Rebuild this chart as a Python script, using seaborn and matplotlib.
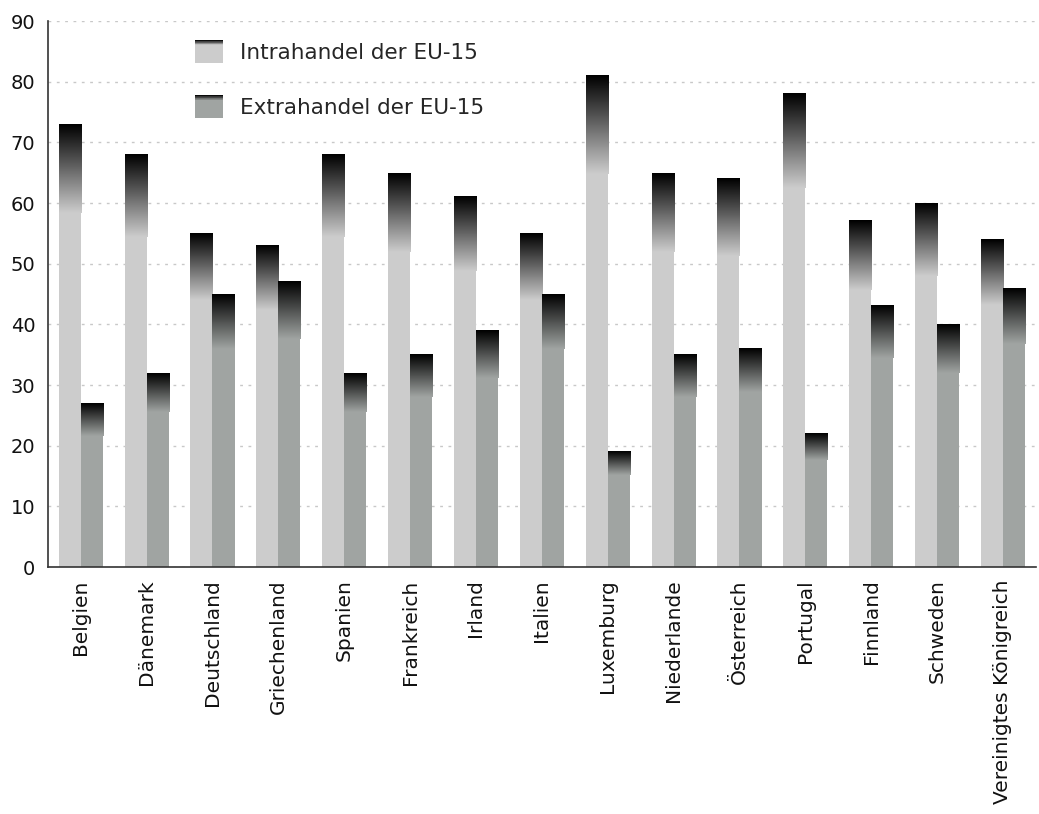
import matplotlib
matplotlib.use("Agg")
import matplotlib.pyplot as plt
import numpy as np
import pandas as pd
import seaborn as sns
from matplotlib.colors import LinearSegmentedColormap, to_rgb
from matplotlib.legend_handler import HandlerBase
from matplotlib.patches import Patch, Rectangle

countries = ["Belgien", "Dänemark", "Deutschland", "Griechenland", "Spanien",
             "Frankreich", "Irland", "Italien", "Luxemburg", "Niederlande",
             "Österreich", "Portugal", "Finnland", "Schweden",
             "Vereinigtes Königreich"]
intra = [73, 68, 55, 53, 68, 65, 61, 55, 81, 65, 64, 78, 57, 60, 54]
extra = [27, 32, 45, 47, 32, 35, 39, 45, 19, 35, 36, 22, 43, 40, 46]
series = ["Intrahandel der EU-15", "Extrahandel der EU-15"]
colors = ["#cccccc", "#a0a4a2"]

GRAD_FRAC = 0.2  # top part of each bar shaded to black


def gradient_cmap(base):
    return LinearSegmentedColormap.from_list("g", [to_rgb(base), (0, 0, 0)])


class GradientHandler(HandlerBase):
    def __init__(self, base):
        super().__init__()
        self.base = base

    def create_artists(self, legend, orig_handle, xdescent, ydescent,
                       width, height, fontsize, trans):
        arts = [Rectangle((-xdescent, -ydescent), width, height,
                          facecolor=self.base, edgecolor="none", transform=trans)]
        cmap = gradient_cmap(self.base)
        n = 8
        gh = height * 0.22
        for i in range(n):
            y = -ydescent + height - gh + gh * i / n
            arts.append(Rectangle((-xdescent, y), width, gh / n + 0.3,
                                  facecolor=cmap((i + 0.5) / n), edgecolor="none",
                                  transform=trans))
        return arts


df = pd.DataFrame({
    "land": countries * 2,
    "wert": intra + extra,
    "handel": [series[0]] * len(countries) + [series[1]] * len(countries),
})

sns.set_style("white")
plt.rcParams["font.family"] = ["DejaVu Sans"]

fig = plt.figure(figsize=(10.39, 8.14), dpi=100)
ax = fig.add_axes([0.046, 0.3034, 0.951, 0.6708])

sns.barplot(data=df, x="land", y="wert", hue="handel", hue_order=series,
            palette=dict(zip(series, colors)), width=0.67, legend=False,
            saturation=1, linewidth=0, edgecolor="none", ax=ax, zorder=2)

# gradient cap on every bar
grad = np.linspace(0, 1, 128).reshape(-1, 1)
for patch, base in zip(ax.patches, [colors[0]] * 15 + [colors[1]] * 15):
    x0, y0 = patch.get_x(), patch.get_y()
    w, h = patch.get_width(), patch.get_height()
    ax.imshow(grad, extent=[x0, x0 + w, y0 + h * (1 - GRAD_FRAC), y0 + h],
              origin="lower", aspect="auto", cmap=gradient_cmap(base),
              interpolation="bilinear", zorder=3)

ax.set_xlim(-0.5, len(countries) - 0.5)
ax.set_ylim(0, 90)
ax.set_yticks(range(0, 91, 10))
ax.set_xlabel("")
ax.set_ylabel("")

ax.yaxis.grid(True, linestyle=(0, (2, 4)), color="#c8c8c8", linewidth=1, zorder=0)
ax.xaxis.grid(False)
ax.set_axisbelow(True)

for side in ["top", "right"]:
    ax.spines[side].set_visible(False)
for side in ["left", "bottom"]:
    ax.spines[side].set_color("#333333")
    ax.spines[side].set_linewidth(1.2)

ax.tick_params(axis="y", direction="out", length=6, width=1.2, color="#333333",
               labelsize=14, labelcolor="#111111", pad=3)
ax.tick_params(axis="x", which="major", length=0, labelsize=14.5,
               labelcolor="#111111", pad=9)
ax.set_xticks(np.arange(0.5, len(countries) - 0.5), minor=True)
ax.tick_params(axis="x", which="minor", direction="out", length=6, width=1.2,
               color="#333333")
plt.setp(ax.get_xticklabels(), rotation=90, ha="center", va="top")

handles = [Patch(label=series[0]), Patch(label=series[1])]
ax.legend(handles=handles, labels=series,
          handler_map={handles[0]: GradientHandler(colors[0]),
                       handles[1]: GradientHandler(colors[1])},
          loc="upper left", bbox_to_anchor=(0.149, 0.965), frameon=False,
          fontsize=15.5, borderpad=0, borderaxespad=0, handlelength=1.3,
          handleheight=1.25, handletextpad=0.8, labelspacing=1.5)

fig.savefig("out.png", dpi=100)
